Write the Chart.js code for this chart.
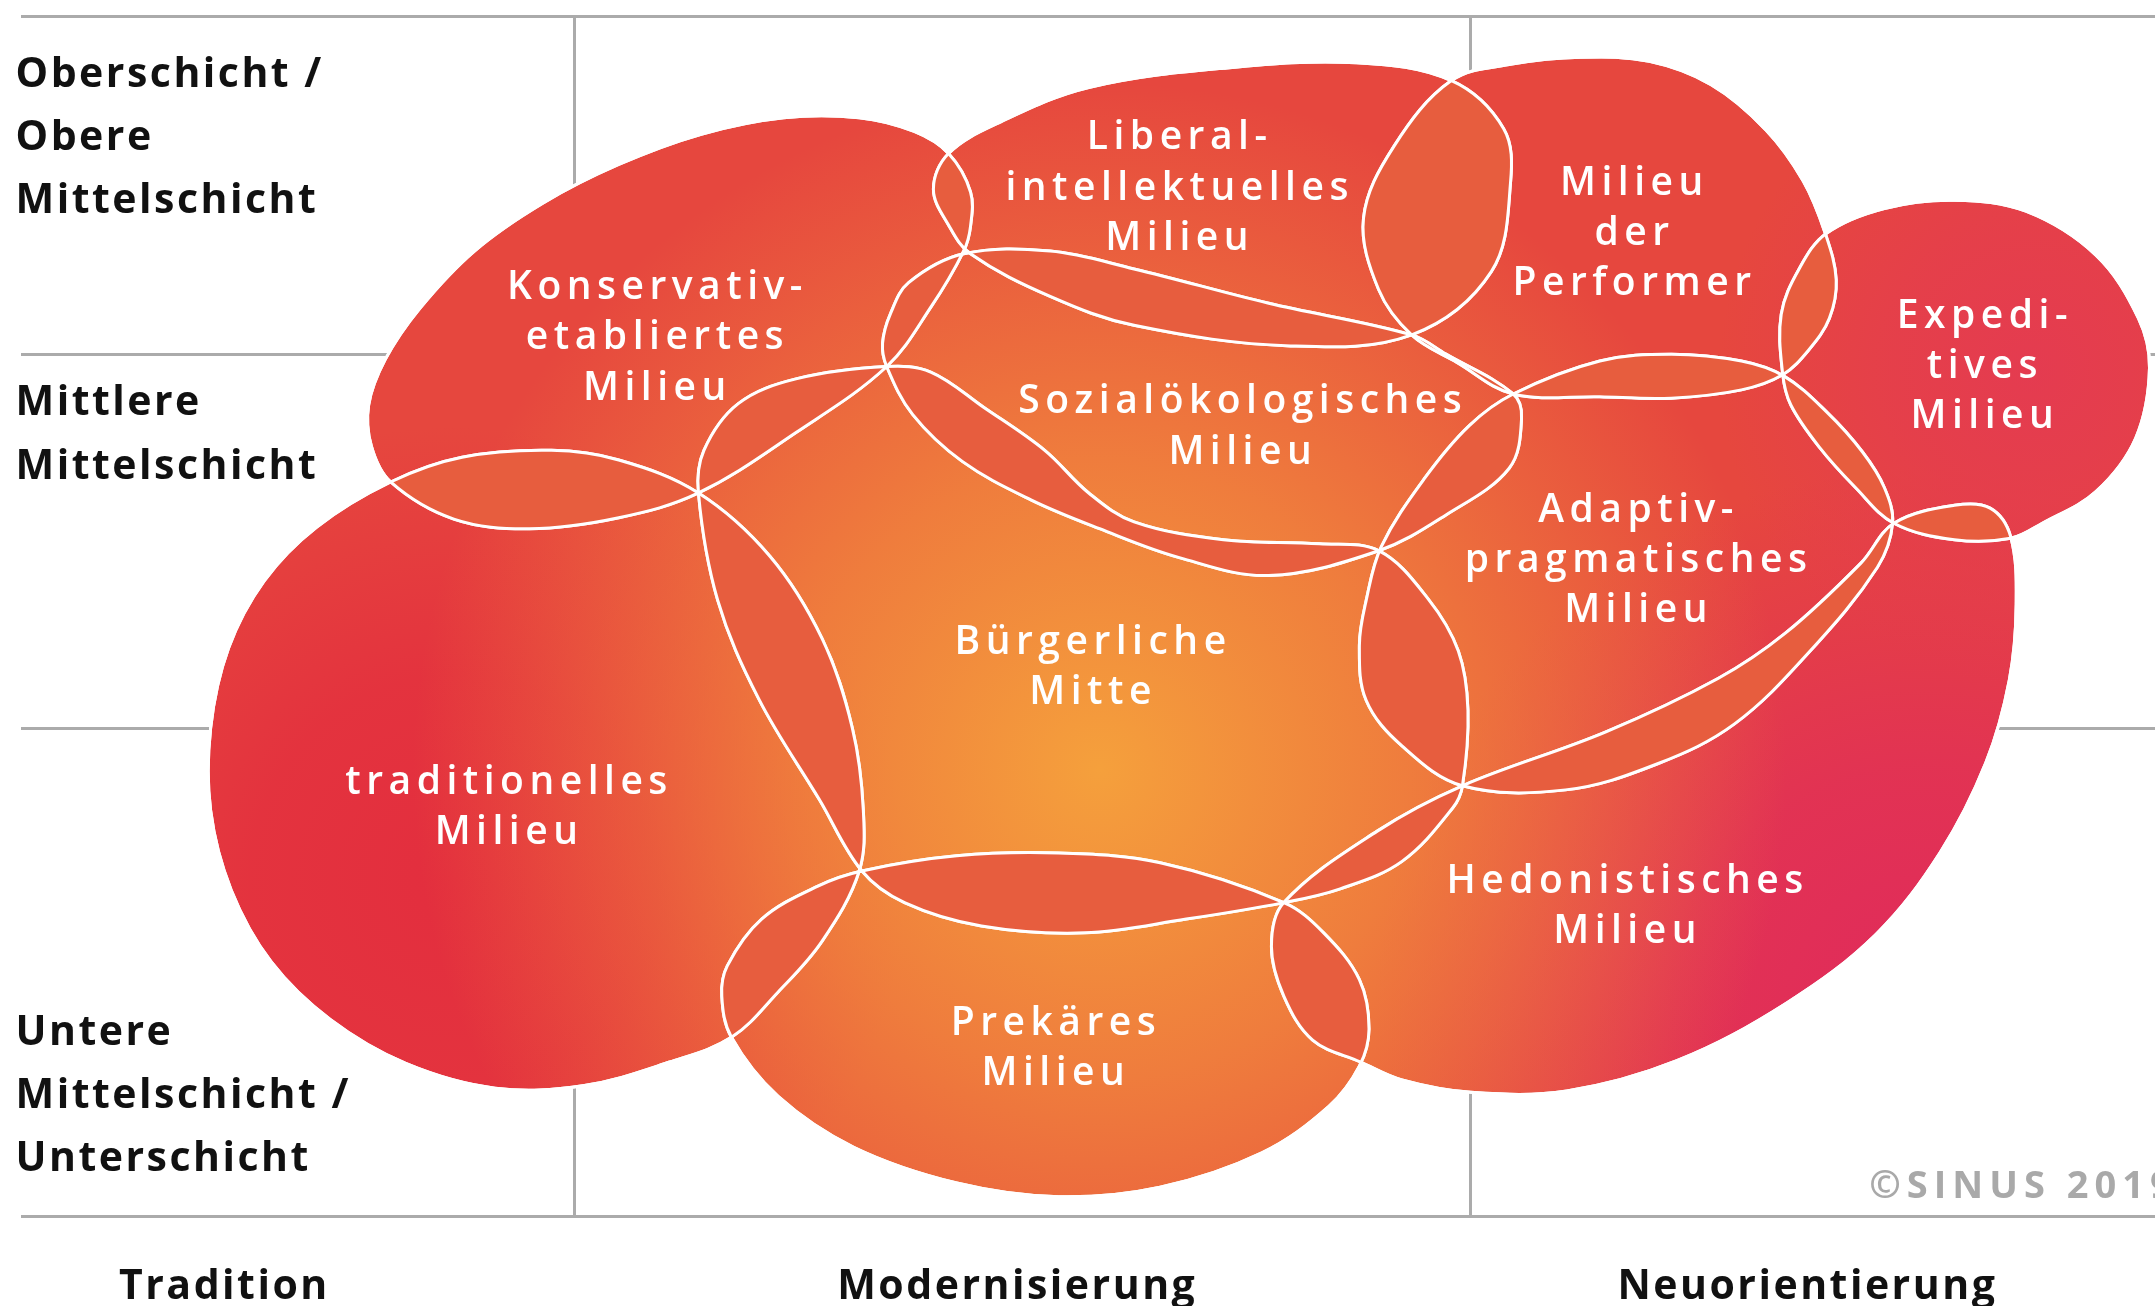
<!DOCTYPE html>
<html>
<head>
<meta charset="utf-8">
<title>Sinus-Milieus</title>
<script src="https://cdn.jsdelivr.net/npm/chart.js@4.4.0/dist/chart.umd.min.js"></script>
<style>
  html, body { margin: 0; padding: 0; background: #fff; }
  #wrap { width: 2155px; height: 1306px; }
</style>
</head>
<body>
<div id="wrap"><canvas id="milieus"></canvas></div>
<script>
// map units: x = basic values (Tradition -> Neuorientierung), y = social class (top = upper)
const schichtGrenzen = [12, 258, 530, 885];
const werteGrenzen = [418, 1070];

const schichtLabels = [
  ['Oberschicht /', 'Obere', 'Mittelschicht'],
  ['Mittlere', 'Mittelschicht'],
  ['Untere', 'Mittelschicht /', 'Unterschicht']
];
const schichtLabelY = [55, 294, 752];

const werteLabels = ['Tradition', 'Modernisierung', 'Neuorientierung'];
const werteLabelX = [163, 740, 1315];

const milieuNames = [
  ['Konservativ-', 'etabliertes', 'Milieu'],
  ['Liberal-', 'intellektuelles', 'Milieu'],
  ['Milieu', 'der', 'Performer'],
  ['Expedi-', 'tives', 'Milieu'],
  ['Sozialökologisches', 'Milieu'],
  ['Adaptiv-', 'pragmatisches', 'Milieu'],
  ['Bürgerliche', 'Mitte'],
  ['traditionelles', 'Milieu'],
  ['Prekäres', 'Milieu'],
  ['Hedonistisches', 'Milieu']
];
const milieuLabelX = [476, 856, 1187, 1442, 902, 1190, 793, 368, 766, 1182];
const milieuLabelY = [210, 101, 134, 231, 293, 372, 468, 570, 745, 642];

// outline of each milieu
const outlineKonservativ = [[284,351],[270,325],[268,295],[280,262],[305,225],[345,183],[395,148],[450,120],[510,98],[570,86],[625,86],[665,96],[690,112],[706,140],[706,165],[701,183],[677,224],[645,267],[579,315],[508,359],[450,377],[385,385],[330,378]];
const outlineLiberal = [[690,112],[728,89],[792,64],[890,50],[987,46],[1056,59],[1094,94],[1099,133],[1085,198],[1027,244],[939,252],[825,237],[764,216],[706,185],[690,164],[679,138]];
const outlinePerformer = [[1056,59],[1100,47],[1150,42],[1200,45],[1245,62],[1285,95],[1312,132],[1328,170],[1336,204],[1331,232],[1316,255],[1297,273],[1267,284],[1216,290],[1164,289],[1101,287],[1060,264],[1027,244],[1003,211],[992,159],[1014,107]];
const outlineExpeditiv = [[1329,170],[1371,152],[1422,146],[1474,154],[1525,186],[1556,232],[1564,268],[1554,319],[1525,358],[1486,381],[1463,392],[1422,393],[1378,381],[1350,355],[1324,326],[1303,295],[1297,272],[1296,229],[1309,196]];
const outlineSozialoeko = [[701,185],[764,183],[825,196],[923,221],[1027,244],[1052,258],[1101,287],[1107,305],[1098,341],[1052,375],[1003,401],[923,419],[858,406],[800,385],[750,364],[700,336],[664,302],[645,267],[642,250],[648,228],[661,206]];
const outlineAdaptiv = [[1101,287],[1164,263],[1216,258],[1267,263],[1298,274],[1329,300],[1355,329],[1371,355],[1377,381],[1366,413],[1317,474],[1262,527],[1206,556],[1139,575],[1064,572],[1020,543],[994,510],[989,470],[994,437],[1005,398],[1036,349],[1069,310]];
const outlineMitte = [[508,359],[512,328],[537,294],[579,276],[645,267],[677,271],[716,297],[760,328],[792,359],[825,380],[890,393],[960,396],[1003,401],[1039,436],[1061,474],[1068,517],[1064,572],[1057,588],[1020,627],[975,647],[934,657],[863,669],[789,679],[714,674],[658,657],[627,634],[596,582],[552,509],[522,437]];
const outlineTraditionell = [[284,351],[336,333],[401,328],[450,335],[508,359],[560,405],[598,465],[620,530],[628,590],[625,634],[598,685],[566,722],[532,755],[487,773],[425,790],[360,792],[295,774],[240,742],[197,700],[168,648],[153,590],[153,530],[166,472],[192,423],[230,384]];
const outlinePrekaer = [[627,634],[696,623],[770,621],[844,628],[934,657],[963,679],[989,713],[996,749],[989,776],[967,805],[918,839],[844,864],[770,871],[696,861],[621,835],[566,798],[532,755],[525,725],[529,703],[554,669],[595,645]];
const outlineHedonist = [[934,657],[1002,605],[1064,572],[1168,533],[1250,494],[1299,461],[1354,410],[1378,381],[1422,368],[1448,370],[1463,391],[1467,440],[1462,495],[1445,555],[1412,620],[1365,680],[1300,730],[1220,772],[1140,794],[1070,795],[1020,786],[990,773],[955,757],[934,725],[925,689]];

const outlines = [outlineKonservativ, outlineLiberal, outlinePerformer, outlineExpeditiv, outlineSozialoeko,
  outlineAdaptiv, outlineMitte, outlineTraditionell, outlinePrekaer, outlineHedonist];

const baseColor = '#E6473E';
const overlapColor = '#E75D3E';

// wrap the ring so the spline closes smoothly; the two helper segments are not stroked
function closeLoop(pts) {
  const n = pts.length;
  return [pts[n - 1], ...pts, pts[0], pts[1]].map(([x, y]) => ({x, y}));
}

let fillPattern = null;
function buildFillPattern(chart) {
  const {x, y} = chart.scales;
  const off = document.createElement('canvas');
  off.width = chart.width;
  off.height = chart.height;
  const g = off.getContext('2d');
  g.fillStyle = baseColor;
  g.fillRect(0, 0, off.width, off.height);
  const k = (x.getPixelForValue(1015) - x.getPixelForValue(15)) / 1000;
  const glows = [
    {cx: 330, cy: 640, r: 330, c: '227,46,62', a: [1, 0.8, 0]},
    {cx: 1400, cy: 740, r: 400, c: '224,42,92', a: [1, 0.7, 0]},
    {cx: 1480, cy: 270, r: 230, c: '228,58,82', a: [0.9, 0.6, 0]},
    {cx: 800, cy: 560, r: 500, c: '245,160,60', a: [1, 0.6, 0]}
  ];
  glows.forEach(o => {
    const px = x.getPixelForValue(o.cx), py = y.getPixelForValue(o.cy), pr = o.r * k;
    const rg = g.createRadialGradient(px, py, 0, px, py, pr);
    rg.addColorStop(0, `rgba(${o.c},${o.a[0]})`);
    rg.addColorStop(0.45, `rgba(${o.c},${o.a[1]})`);
    rg.addColorStop(1, `rgba(${o.c},${o.a[2]})`);
    g.fillStyle = rg;
    g.fillRect(0, 0, off.width, off.height);
  });
  fillPattern = chart.ctx.createPattern(off, 'no-repeat');
}

const patternPlugin = {
  id: 'pattern',
  afterLayout(chart) {
    buildFillPattern(chart);
  }
};

// closed outline of one milieu, from the spline points the line element computed
function ringPath(meta) {
  const pts = meta.data;
  const p = new Path2D();
  p.moveTo(pts[1].x, pts[1].y);
  for (let i = 1; i < pts.length - 2; i++) {
    const a = pts[i], b = pts[i + 1];
    p.bezierCurveTo(a.cp2x, a.cp2y, b.cp1x, b.cp1y, b.x, b.y);
  }
  p.closePath();
  return p;
}

// overlapping parts of two milieus get one flat colour, then the outlines go back on top
const overlapPlugin = {
  id: 'overlaps',
  afterDatasetsDraw(chart) {
    const ctx = chart.ctx;
    const metas = chart.getSortedVisibleDatasetMetas();
    const paths = metas.map(ringPath);
    for (let i = 0; i < paths.length; i++) {
      for (let j = i + 1; j < paths.length; j++) {
        ctx.save();
        ctx.clip(paths[i]);
        ctx.fillStyle = overlapColor;
        ctx.fill(paths[j]);
        ctx.restore();
      }
    }
    for (let i = metas.length - 1; i >= 0; i--) {
      const line = metas[i].dataset;
      line.draw(ctx, chart.chartArea, 0, line.points.length);
    }
  }
};

const labelPlugin = {
  id: 'labels',
  afterDatasetsDraw(chart) {
    const {ctx, scales: {x, y}} = chart;
    ctx.save();
    ctx.fillStyle = '#FFFFFF';
    ctx.font = '600 39px "Open Sans"';
    ctx.letterSpacing = '5.5px';
    ctx.textAlign = 'center';
    ctx.textBaseline = 'middle';
    milieuNames.forEach((lines, i) => {
      lines.forEach((t, k) => {
        ctx.fillText(t, x.getPixelForValue(milieuLabelX[i]) + 3, y.getPixelForValue(milieuLabelY[i] + k * 36.5));
      });
    });
    ctx.restore();
  },
  afterDraw(chart) {
    const {ctx, scales: {x, y}} = chart;
    ctx.save();
    ctx.fillStyle = '#111111';
    ctx.font = '700 41px "Open Sans"';
    ctx.letterSpacing = '2.5px';
    ctx.textBaseline = 'middle';
    ctx.textAlign = 'left';
    schichtLabels.forEach((lines, i) => {
      lines.forEach((t, k) => {
        ctx.fillText(t, x.getPixelForValue(11), y.getPixelForValue(schichtLabelY[i] + k * 46));
      });
    });
    ctx.textAlign = 'center';
    werteLabels.forEach((t, i) => {
      ctx.fillText(t, x.getPixelForValue(werteLabelX[i]), y.getPixelForValue(937));
    });
    ctx.textAlign = 'left';
    ctx.fillStyle = '#A9A9A9';
    ctx.font = '700 38px "Open Sans"';
    ctx.letterSpacing = '6px';
    ctx.fillText('©SINUS 2019', x.getPixelForValue(1360), y.getPixelForValue(864));
    ctx.restore();
  }
};

new Chart(document.getElementById('milieus'), {
  type: 'line',
  data: {
    datasets: outlines.map((pts, i) => ({
      label: milieuNames[i].join(' '),
      data: closeLoop(pts),
      tension: 0.36,
      borderColor: '#FFFFFF',
      borderWidth: 3,
      fill: 'shape',
      backgroundColor: () => fillPattern || baseColor,
      pointRadius: 0,
      pointHoverRadius: 0,
      clip: false,
      segment: {
        borderColor: c => (c.p0DataIndex === 0 || c.p0DataIndex === pts.length + 1) ? 'rgba(0,0,0,0)' : undefined
      }
    }))
  },
  options: {
    responsive: true,
    maintainAspectRatio: false,
    animation: false,
    events: [],
    layout: { padding: { left: 21, right: 0, top: 16, bottom: 90 }, autoPadding: false },
    plugins: {
      legend: { display: false },
      tooltip: { enabled: false },
      filler: { drawTime: 'beforeDatasetsDraw' }
    },
    elements: { line: { capBezierPoints: false } },
    scales: {
      x: {
        type: 'linear', min: 15, max: 1568,
        ticks: { display: false },
        grid: { color: '#ABABAB', lineWidth: 3, drawTicks: false },
        border: { display: false },
        afterBuildTicks: s => { s.ticks = werteGrenzen.map(v => ({value: v})); },
        afterFit: s => { s.height = 0; }
      },
      y: {
        type: 'linear', reverse: true, min: 12, max: 885,
        ticks: { display: false },
        grid: { color: '#ABABAB', lineWidth: 3, drawTicks: false },
        border: { display: false },
        afterBuildTicks: s => { s.ticks = schichtGrenzen.map(v => ({value: v})); },
        afterFit: s => { s.width = 0; }
      }
    }
  },
  plugins: [patternPlugin, overlapPlugin, labelPlugin]
});
</script>
</body>
</html>
